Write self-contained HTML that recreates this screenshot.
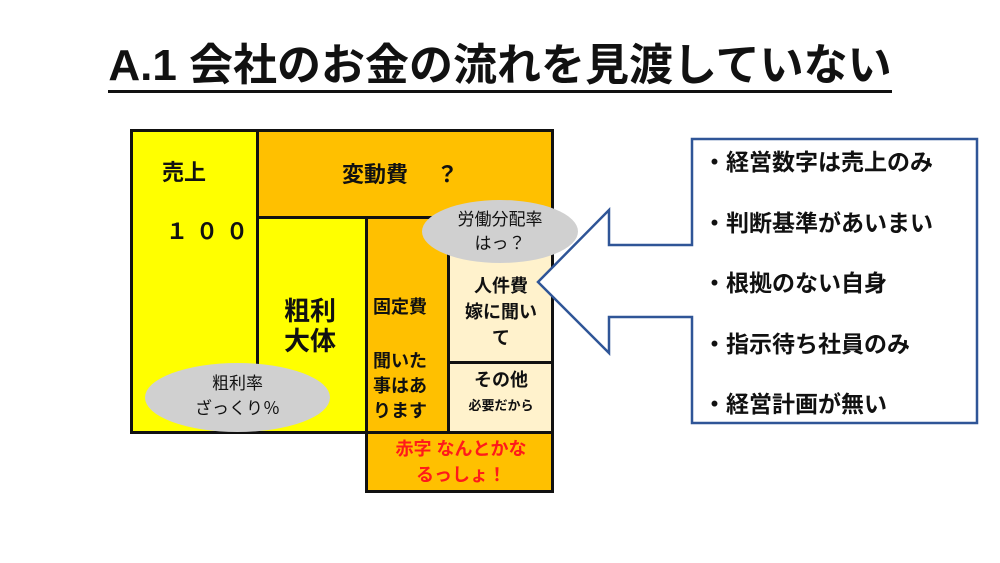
<!DOCTYPE html>
<html><head><meta charset="utf-8"><style>
body{margin:0;width:1000px;height:563px;background:#fff;position:relative;overflow:hidden;font-family:"Liberation Sans","Noto Sans CJK JP",sans-serif;}
.a{position:absolute;box-sizing:border-box;}
.t{position:absolute;white-space:nowrap;color:#111;}
</style></head><body>
<div class="t" style="left:0;width:1000px;top:39px;text-align:center;font-size:44px;font-weight:bold;line-height:54px;"><span style="border-bottom:3px solid #111;padding-bottom:0px;">A.1 会社のお金の流れを見渡していない</span></div>

<div class="a" style="left:130px;top:129px;width:424px;height:305px;border:3px solid #111;background:#ffff00;"></div>
<div class="a" style="left:256px;top:129px;width:298px;height:90px;border:3px solid #111;background:#ffc000;"></div>
<div class="a" style="left:256px;top:216px;width:112px;height:218px;border:3px solid #111;background:#ffff00;"></div>
<div class="a" style="left:365px;top:216px;width:85px;height:218px;border:3px solid #111;background:#ffc000;"></div>
<div class="a" style="left:447px;top:216px;width:107px;height:148px;border:3px solid #111;background:#fff2cc;"></div>
<div class="a" style="left:447px;top:361px;width:107px;height:73px;border:3px solid #111;background:#fff2cc;"></div>
<div class="a" style="left:365px;top:431px;width:189px;height:62px;border:3px solid #111;background:#ffc000;"></div>

<div class="a" style="left:422px;top:200px;width:156px;height:63px;border-radius:50%;background:#d0d0d0;"></div>
<div class="a" style="left:145px;top:363px;width:185px;height:69px;border-radius:50%;background:#d0d0d0;"></div>

<div class="t" style="left:162px;top:155px;font-size:22px;font-weight:bold;">売上</div>
<div class="t" style="left:166px;top:214px;font-size:22px;font-weight:bold;letter-spacing:8px;">１００</div>
<div class="t" style="left:342px;top:157px;font-size:22px;font-weight:bold;">変動費　 ？</div>
<div class="t" style="left:284px;top:296px;font-size:26px;font-weight:bold;line-height:30px;">粗利<br>大体</div>
<div class="t" style="left:373px;top:295px;font-size:18px;font-weight:bold;line-height:25px;">固定費<br><span style="font-size:10px;line-height:27px;">&nbsp;</span><br>聞いた<br>事はあ<br>ります</div>
<div class="t" style="left:450px;top:273px;width:102px;text-align:center;font-size:18px;font-weight:bold;line-height:26px;">人件費<br>嫁に聞い<br>て</div>
<div class="t" style="left:449px;top:368px;width:104px;text-align:center;font-size:18px;font-weight:bold;line-height:24px;">その他<br><span style="font-size:13px;">必要だから</span></div>
<div class="t" style="left:422px;top:208px;width:156px;text-align:center;font-size:17px;line-height:24px;">労働分配率<br>はっ？</div>
<div class="t" style="left:145px;top:371px;width:185px;text-align:center;font-size:17px;line-height:25px;">粗利率<br>ざっくり％</div>
<div class="t" style="left:368px;top:436px;width:186px;text-align:center;font-size:18px;font-weight:bold;line-height:26px;color:#ff1a1a;">赤字 なんとかな<br>るっしょ！</div>

<svg class="a" style="left:0;top:0" width="1000" height="563">
<path d="M692,245 L692,139 L977,139 L977,423 L692,423 L692,317 L609,317 L609,353 L538,282 L609,210 L609,245 Z" fill="#fff" stroke="#2f5597" stroke-width="2.5"/>
</svg>
<div class="t" style="left:703px;top:132px;font-size:23px;font-weight:bold;line-height:60.5px;">・経営数字は売上のみ<br>・判断基準があいまい<br>・根拠のない自身<br>・指示待ち社員のみ<br>・経営計画が無い</div>
</body></html>
